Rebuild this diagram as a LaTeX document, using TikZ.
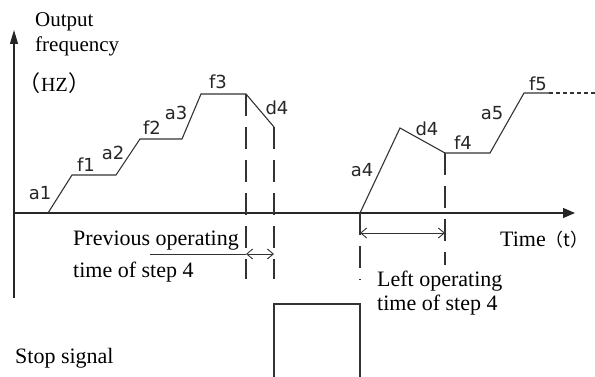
\documentclass[tikz,border=0pt]{standalone}
\usepackage{fontspec}
\setmainfont{Liberation Serif}
\newfontfamily\labfont{DejaVu Sans}
\newfontfamily\cjk{Noto Sans CJK SC}
\usetikzlibrary{arrows.meta}
\begin{document}
\begin{tikzpicture}[x=1pt,y=-1pt,
  curve/.style={draw=black!80, line width=1.1pt, line join=miter},
  axis/.style={draw=black!85, line width=1.2pt},
  guide/.style={draw=black!80, line width=1.1pt, dash pattern=on 22pt off 11pt},
  fguide/.style={draw=black!80, line width=1.1pt, dash pattern=on 4pt off 3pt},
  lab/.style={font=\labfont\fontsize{18}{20}\selectfont, inner sep=0pt, text=black!85},
  txt/.style={font=\fontsize{22}{26}\selectfont, inner sep=0pt, anchor=base west},
  dim/.style={draw=black!80, line width=0.9pt, {Straight Barb[length=6pt,width=10pt]}-{Straight Barb[length=6pt,width=10pt]}}
]
\useasboundingbox (0,0) rectangle (595,377);
% axes
\coordinate (O) at (14,213);
\coordinate (ytop) at (14,30);
\coordinate (ybot) at (14,298);
\coordinate (xend) at (575,213);
\draw[axis,-{Triangle[length=14pt,width=8pt]}] (ybot) -- (ytop);
\draw[axis,-{Triangle[length=12pt,width=10pt]}] (O) -- (xend);
% curve before stop
\coordinate (p0) at (48,213);
\coordinate (p1) at (72,175);
\coordinate (p2) at (116,175);
\coordinate (p3) at (140,139);
\coordinate (p4) at (182,139);
\coordinate (p5) at (201,94);
\coordinate (p6) at (246,94);
\coordinate (p7) at (274,127);
\draw[curve] (p0) -- (p1) -- (p2) -- (p3) -- (p4) -- (p5) -- (p6) -- (p7);
% curve after restart
\coordinate (q0) at (360,213);
\coordinate (q1) at (400,128);
\coordinate (q2) at (445,153);
\coordinate (q3) at (490,153);
\coordinate (q4) at (524,93);
\coordinate (q5) at (549,93);
\coordinate (q6) at (595,93);
\draw[curve] (q0) -- (q1) -- (q2) -- (q3) -- (q4) -- (q5);
\draw[fguide] (q5) -- (q6);
% guides
\coordinate (g6) at (246,279);
\coordinate (g7) at (274,279);
\coordinate (gq0) at (360,280);
\coordinate (gq2) at (445,265);
\draw[guide] (p6) -- (g6);
\draw[guide] (p7) -- (g7);
\draw[guide] (q0) -- (gq0);
\draw[guide] (q2) -- (gq2);
% dimension arrows
\coordinate (la) at (150,254);
\coordinate (lb) at (246,254);
\coordinate (lc) at (274,254);
\draw[draw=black!80, line width=0.9pt] (la) -- (lb);
\draw[dim] (lb) -- (lc);
\coordinate (ra) at (360,233);
\coordinate (rb) at (445,233);
\draw[dim] (ra) -- (rb);
% stop signal
\coordinate (s0) at (274,377);
\coordinate (s1) at (274,304);
\coordinate (s2) at (360,304);
\coordinate (s3) at (360,377);
\draw[curve] (s0) -- (s1) -- (s2) -- (s3);
% labels
\node[lab] (a1) at (40,193) {a1};
\node[lab] (f1) at (86,165) {f1};
\node[lab] (a2) at (113,153) {a2};
\node[lab] (f2) at (152,128) {f2};
\node[lab] (a3) at (176,113) {a3};
\node[lab] (f3) at (218,82) {f3};
\node[lab] (d4a) at (277,108) {d4};
\node[lab] (a4) at (362,170) {a4};
\node[lab] (d4b) at (427,129) {d4};
\node[lab] (f4) at (463,143) {f4};
\node[lab] (a5) at (492,113) {a5};
\node[lab] (f5) at (538,84) {f5};
% texts
\node[txt, font=\fontsize{21}{24}\selectfont] (out1) at (35,27) {Output};
\node[txt, font=\fontsize{21}{24}\selectfont] (out2) at (35,52) {frequency};
\node[txt, font=\fontsize{20}{24}\selectfont] (hz) at (18,92) {{\cjk\fontsize{22}{24}\selectfont （}\hspace{1pt}HZ\hspace{1pt}{\cjk\fontsize{22}{24}\selectfont ）}};
\node[txt] (prev1) at (73,245) {Previous operating};
\node[txt] (prev2) at (73,277) {time of step 4};
\node[txt] (left1) at (377,286) {Left operating};
\node[txt] (left2) at (377,310) {time of step 4};
\node[txt] (stop) at (15,363) {Stop signal};
\node[txt] (time) at (500,247) {Time{\cjk\fontsize{18}{20}\selectfont （t）}};
\end{tikzpicture}
\end{document}
